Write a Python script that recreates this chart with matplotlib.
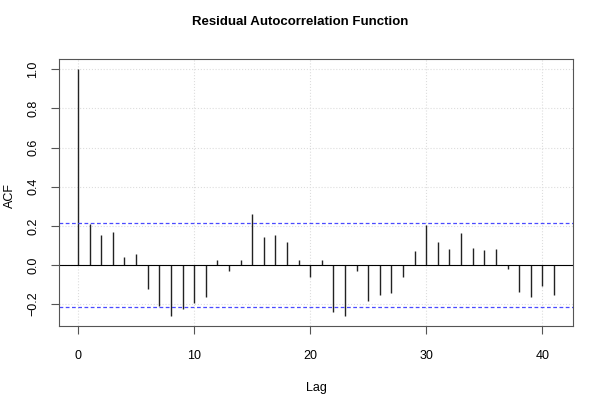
import matplotlib
matplotlib.use("Agg")
import matplotlib.pyplot as plt
import numpy as np

plt.rcParams['font.family'] = ['Liberation Sans', 'DejaVu Sans']

lags = list(range(42))
acf = [1.0, 0.207, 0.151, 0.168, 0.042, 0.058, -0.121, -0.211, -0.261, -0.226,
       -0.194, -0.165, 0.025, -0.029, 0.024, 0.263, 0.144, 0.153, 0.119, 0.025,
       -0.063, 0.025, -0.241, -0.261, -0.031, -0.183, -0.155, -0.141, -0.063, 0.070,
       0.205, 0.119, 0.083, 0.161, 0.088, 0.076, 0.083, -0.022, -0.138, -0.163,
       -0.107, -0.155]
conf = 0.2164
xticks = [0, 10, 20, 30, 40]
yticks = [-0.2, 0.0, 0.2, 0.4, 0.6, 0.8, 1.0]
yticklabels = ['\u22120.2', '0.0', '0.2', '0.4', '0.6', '0.8', '1.0']

fig = plt.figure(figsize=(6, 4), dpi=100)
ax = fig.add_axes([59/600, 1-326/400, (573-59)/600, (326-59.3)/400])

xr = max(lags) - min(lags)
ax.set_xlim(min(lags) - 0.04*xr, max(lags) + 0.04*xr)
yr = max(acf) - min(acf)
ax.set_ylim(min(acf) - 0.04*yr, max(acf) + 0.04*yr)

ax.set_xticks(xticks)
ax.set_yticks(yticks)
ax.grid(True, color='#dddddd', linestyle=':', linewidth=0.8)
ax.set_axisbelow(True)

ax.vlines(lags, 0, acf, colors='#222222', linewidth=1.0)
ax.axhline(0, color='black', linewidth=0.8)
ax.axhline(conf, color='#4a4aff', linestyle=(0, (3, 2)), linewidth=0.9)
ax.axhline(-conf, color='#4a4aff', linestyle=(0, (3, 2)), linewidth=0.9)

for s in ax.spines.values():
    s.set_color('#555555')
    s.set_linewidth(0.8)

ax.tick_params(direction='out', length=6, width=0.8, color='#555555', labelsize=9)
ax.tick_params(axis='x', pad=11)
ax.tick_params(axis='y', pad=8)
ax.set_yticklabels(yticklabels, rotation=90, va='center')

ax.set_xlabel('Lag', fontsize=9, labelpad=15)
fig.text(10/600, 1-196/400, 'ACF', rotation=90, ha='center', va='center', fontsize=9)
fig.text(0.5, 1-22/400, 'Residual Autocorrelation Function', ha='center', va='center',
         fontsize=9.5, fontweight='bold')

fig.savefig('out.png', dpi=100)
